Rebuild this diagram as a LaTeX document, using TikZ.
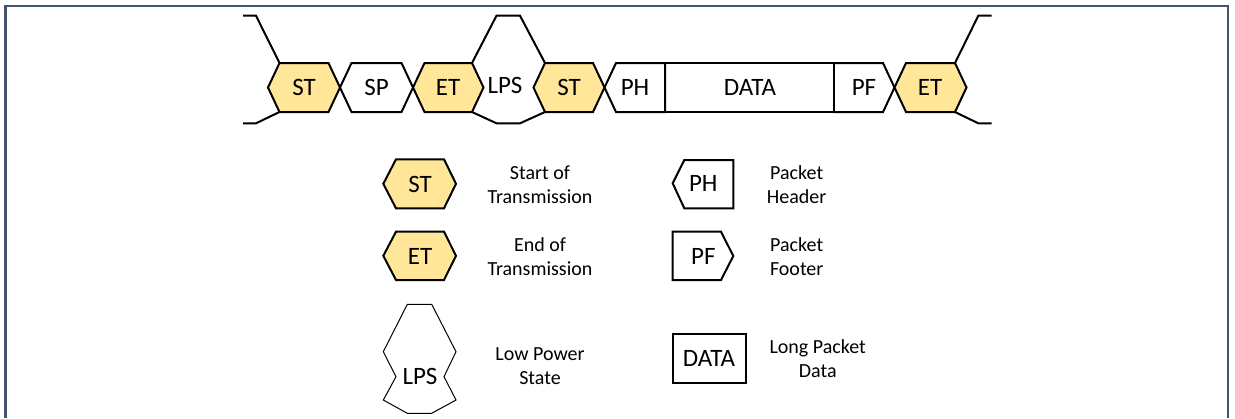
\documentclass[tikz,border=0pt]{standalone}
\usepackage{fontspec}
\setmainfont{Carlito}
\definecolor{stfill}{HTML}{FFE699}
\definecolor{framegray}{HTML}{44546A}
\tikzset{
  lane/.style={line width=1.5pt, line join=miter},
  thinlane/.style={line width=0.75pt},
  lbl/.style={font=\fontsize{18.75}{22}\selectfont, inner sep=0pt},
  desc/.style={font=\fontsize{15}{18}\selectfont, align=center, inner sep=0pt},
}
\begin{document}
\begin{tikzpicture}[x=0.75pt, y=-0.75pt]
  \useasboundingbox (0,0) rectangle (1235,418);
  \draw[framegray, line width=2pt] (5.3,418) -- (5.3,6) -- (1228,6) -- (1228,418);

  % lines going in and out of the burst
  \coordinate (inhi) at (243,15.7);
  \coordinate (inlo) at (243,123.3);
  \coordinate (outhi) at (991.7,15.7);
  \coordinate (outlo) at (991.7,123.3);
  \draw[lane] (inhi) -- (256,15.7) -- (279.5,63)
              (inlo) -- (256,123.3) -- (279.5,112)
              (955,63) -- (978.3,15.7) -- (outhi)
              (955,112) -- (978.3,123.3) -- (outlo);

  % the burst
  \draw[lane, fill=stfill] (268,87.5) -- (279.5,63) -- (328.5,63) -- (340,87.5) -- (328.5,112) -- (279.5,112) -- cycle;
  \draw[lane] (340,87.5) -- (351.5,63) -- (401.5,63) -- (413,87.5) -- (401.5,112) -- (351.5,112) -- cycle;
  \draw[lane, fill=stfill] (413,87.5) -- (424.5,63) -- (472,63) -- (483.5,87.5) -- (472,112) -- (424.5,112) -- cycle;
  \draw[lane] (472,63) -- (496.5,15.7) -- (520,15.7) -- (545,63)
              (472,112) -- (496.5,123.3) -- (520,123.3) -- (545,112);
  \draw[lane, fill=stfill] (533.5,87.5) -- (545,63) -- (593,63) -- (604.5,87.5) -- (593,112) -- (545,112) -- cycle;
  \draw[lane] (604.5,87.5) -- (616,63) -- (665,63) -- (665,112) -- (616,112) -- cycle;
  \draw[lane] (665,63) rectangle (834.3,112);
  \draw[lane] (834.3,63) -- (883,63) -- (894.5,87.5) -- (883,112) -- (834.3,112);
  \draw[lane, fill=stfill] (894.5,87.5) -- (906,63) -- (955,63) -- (966.5,87.5) -- (955,112) -- (906,112) -- cycle;
  \node[lbl] (st1) at (304,87.5) {ST};
  \node[lbl] (sp) at (376.5,87.5) {SP};
  \node[lbl] (et1) at (448,87.5) {ET};
  \node[lbl] (lps) at (505,85) {LPS};
  \node[lbl] (st2) at (569,87.5) {ST};
  \node[lbl] (ph) at (635,87.5) {PH};
  \node[lbl] (data) at (750,87.5) {DATA};
  \node[lbl] (pf) at (864,87.5) {PF};
  \node[lbl] (et2) at (930,87.5) {ET};

  % legend
  \draw[lane, fill=stfill] (383.3,183.8) -- (396,159.3) -- (444,159.3) -- (456,183.8) -- (444,208.3) -- (396,208.3) -- cycle;
  \draw[lane, fill=stfill] (383.3,255.8) -- (396,231.7) -- (444,231.7) -- (456,255.8) -- (444,280) -- (396,280) -- cycle;
  \draw[thinlane] (407.3,304.3) -- (431.7,304.3) -- (456,351.7) -- (444,376.7) -- (456,400) -- (431.7,413.3)
                  -- (407.3,413.3) -- (383.3,400) -- (396,376.7) -- (383.3,351.7) -- cycle;
  \draw[lane] (672.7,183.3) -- (684.3,160) -- (733.3,160) -- (733.3,208.3) -- (684.3,208.3) -- cycle;
  \draw[lane] (672.7,231.7) -- (721,231.7) -- (733.3,256) -- (721,280) -- (672.7,280) -- cycle;
  \draw[lane] (672.7,334) rectangle (745.7,382.7);
  \node[lbl] (keyst) at (420,184) {ST};
  \node[lbl] (keyet) at (420,256) {ET};
  \node[lbl] (keylps) at (420,376) {LPS};
  \node[lbl] (keyph) at (703.3,183.5) {PH};
  \node[lbl] (keypf) at (703.3,256) {PF};
  \node[lbl] (keydata) at (709,358.3) {DATA};
  \node[desc] (txtst) at (540,184.7) {Start of\\Transmission};
  \node[desc] (txtet) at (540,256.7) {End of\\Transmission};
  \node[desc] (txtlps) at (540,365.8) {Low Power\\State};
  \node[desc] (txtph) at (796.7,184.2) {Packet\\Header};
  \node[desc] (txtpf) at (796.7,256.7) {Packet\\Footer};
  \node[desc] (txtdata) at (817.7,359) {Long Packet\\Data};
\end{tikzpicture}
\end{document}
